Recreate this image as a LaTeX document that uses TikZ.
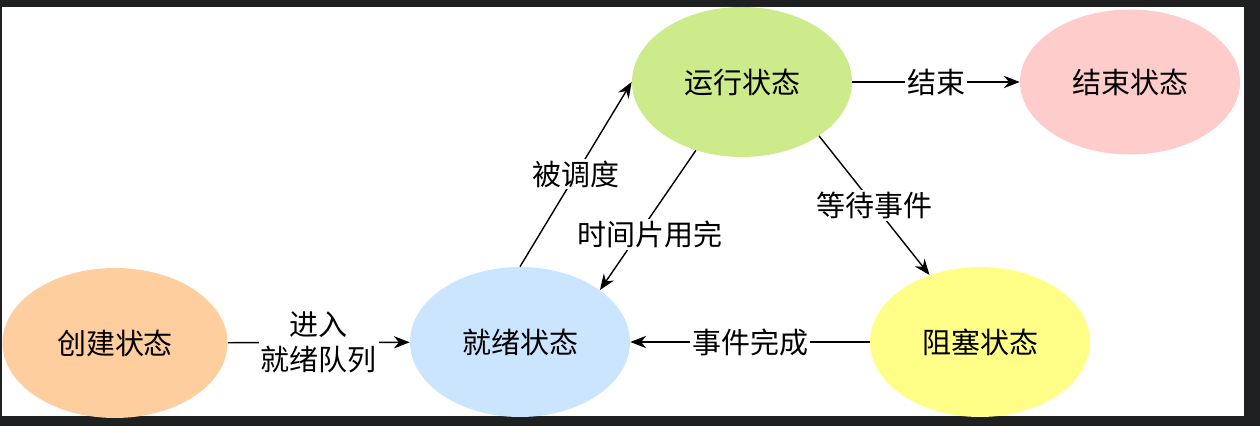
\documentclass[tikz,border=0pt]{standalone}
\usepackage{fontspec}
\setmainfont{Noto Sans CJK SC}
\usetikzlibrary{shapes.geometric,arrows.meta}
\definecolor{darkbg}{HTML}{1E2022}
\definecolor{createc}{HTML}{FFCE9F}
\definecolor{readyc}{HTML}{CCE5FF}
\definecolor{runc}{HTML}{CDEB8B}
\definecolor{endc}{HTML}{FFCCCC}
\definecolor{blockc}{HTML}{FFFF88}
\begin{document}
\begin{tikzpicture}[>={Stealth[length=9pt,width=7pt]}, font=\fontsize{16.5}{20}\selectfont]
  \tikzstyle{state} = [ellipse, minimum width=4.4cm, minimum height=3.0cm, inner sep=0pt]
  \tikzstyle{lbl} = [fill=white, inner sep=1pt, align=center]
  \fill[darkbg] (0,0) rectangle (25.2,8.52);
  \fill[white] (0.04,0.2) rectangle (24.88,8.38);
  \useasboundingbox (0,0) rectangle (25.2,8.52);

  \node[state, fill=createc, minimum width=4.5cm] (create) at (2.3,1.66) {创建状态};
  \node[state, fill=readyc] (ready) at (10.4,1.68) {就绪状态};
  \node[state, fill=runc] (run) at (14.84,6.88) {运行状态};
  \node[state, fill=endc, minimum height=2.9cm] (finish) at (22.6,6.88) {结束状态};
  \node[state, fill=blockc] (block) at (19.6,1.68) {阻塞状态};

  \draw[->, thick] (create) -- node[lbl] {进入\\就绪队列} (ready);
  \draw[->, thick] (run) -- node[lbl] {结束} (finish);
  \draw[->, thick] (block) -- node[lbl] {事件完成} (ready);
  \draw[->, thick] (ready.north) -- node[lbl] {被调度} (run.west);
  \draw[->, thick] (run.236) -- node[lbl, pos=0.6, xshift=0.24cm] {时间片用完} (ready.33);
  \draw[->, thick] (run.-35) -- node[lbl] {等待事件} (block.127);
\end{tikzpicture}
\end{document}
